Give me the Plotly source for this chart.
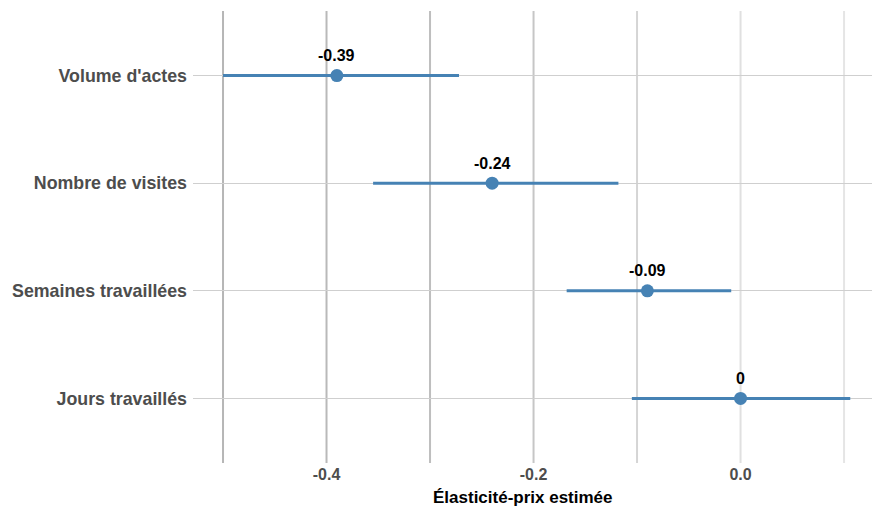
import plotly.graph_objects as go

# Estimated price elasticities with confidence intervals
outcomes = ["Jours travaillés", "Semaines travaillées", "Nombre de visites", "Volume d'actes"]
estimate = [0.0, -0.09, -0.24, -0.39]
ci_low = [-0.105, -0.168, -0.355, -0.500]
ci_high = [0.106, -0.009, -0.118, -0.272]

x_ticks = [-0.4, -0.2, 0.0]
x_grid = [-0.5, -0.4, -0.3, -0.2, -0.1, 0.0, 0.1]
grid_colors = ["#b6b6b6", "#b9b9b9", "#bebebe", "#c6c6c6", "#d5d5d5", "#e0e0e0", "#e5e5e5"]

COLOR = "#4682b4"
FONT = "Liberation Sans, Arial, sans-serif"

def fmt(v):
    s = f"{v:.2f}".rstrip("0").rstrip(".")
    return "0" if s in ("-0", "0") else s

fig = go.Figure()

fig.add_trace(go.Scatter(
    x=estimate,
    y=outcomes,
    mode="markers",
    marker=dict(color=COLOR, size=13),
    error_x=dict(
        type="data",
        symmetric=False,
        array=[h - e for h, e in zip(ci_high, estimate)],
        arrayminus=[e - l for e, l in zip(estimate, ci_low)],
        color=COLOR,
        thickness=3,
        width=0,
    ),
    showlegend=False,
    hoverinfo="skip",
))

for e, o in zip(estimate, outcomes):
    fig.add_annotation(
        x=e, y=o, text=f"<b>{fmt(e)}</b>", showarrow=False,
        yshift=20, font=dict(family=FONT, size=16, color="#000000"),
    )

for gx, gc in zip(x_grid, grid_colors):
    fig.add_shape(
        type="line", x0=gx, x1=gx, xref="x", y0=0, y1=1, yref="y domain",
        line=dict(color=gc, width=2), layer="below",
    )

# x-axis title
fig.add_annotation(
    text="<b>Élasticité-prix estimée</b>", showarrow=False,
    xref="paper", x=0.5, xshift=-10, xanchor="center",
    yref="paper", y=0, yshift=-34, yanchor="middle",
    font=dict(family=FONT, size=17, color="#000000"),
)

fig.update_layout(
    width=872,
    height=510,
    margin=dict(l=193, r=0, t=11, b=47),
    plot_bgcolor="white",
    paper_bgcolor="white",
    font=dict(family=FONT),
    xaxis=dict(
        range=[-0.529, 0.127],
        tickvals=x_ticks,
        ticktext=[f"<b>{v:.1f}</b>" for v in x_ticks],
        tickfont=dict(size=16, color="#4d4d4d"),
        showgrid=False,
        zeroline=False,
        showline=False,
        ticks="",
    ),
    yaxis=dict(
        type="category",
        categoryorder="array",
        categoryarray=outcomes,
        range=[-0.6, 3.6],
        tickvals=outcomes,
        ticktext=[f"<b>{o}</b>" for o in outcomes],
        tickfont=dict(size=17.8, color="#4d4d4d"),
        showgrid=True,
        gridcolor="#cfcfcf",
        gridwidth=1,
        zeroline=False,
        showline=False,
        ticks="",
        ticklabelstandoff=5,
    ),
)

fig.write_html("out.html")
